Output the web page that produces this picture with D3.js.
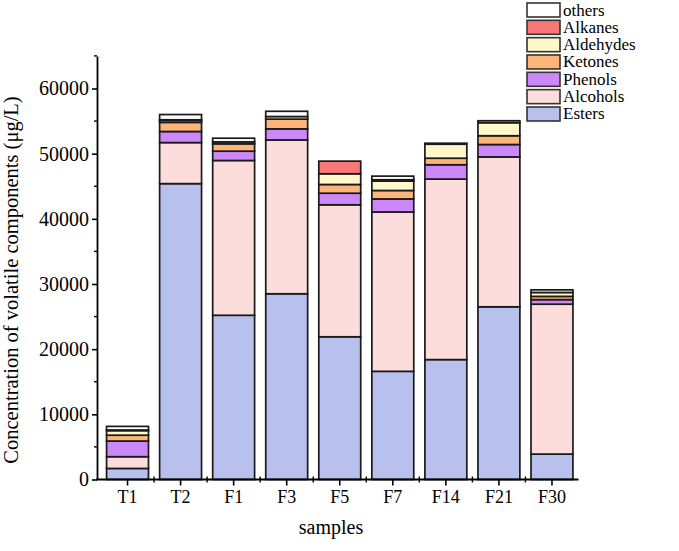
<!DOCTYPE html>
<html><head><meta charset="utf-8">
<script src="https://cdn.jsdelivr.net/npm/d3@7"></script>
<style>body{margin:0;background:#fff}svg{display:block}</style>
</head><body>
<svg id="c" width="679" height="551"></svg>
<script>
const categories = ["T1","T2","F1","F3","F5","F7","F14","F21","F30"];
const seriesNames = ["Esters","Alcohols","Phenols","Ketones","Aldehydes","Alkanes","others"];
const esters    = [1700, 45400, 25200, 28500, 21900, 16600, 18400, 26500, 3900];
const alcohols  = [1800, 6300, 23750, 23600, 20250, 24450, 27700, 23000, 23000];
const phenols   = [2400, 1700, 1430, 1700, 1780, 2000, 2200, 1900, 700];
const ketones   = [900, 1400, 1130, 1500, 1340, 1300, 1000, 1350, 500];
const aldehydes = [700, 300, 300, 400, 1640, 1450, 2150, 2000, 600];
const alkanes   = [100, 100, 0, 0, 1940, 200, 0, 0, 0];
const others    = [550, 800, 560, 800, 0, 550, 150, 300, 400];
const yTicks = [0, 10000, 20000, 30000, 40000, 50000, 60000];
const colors = ["#b8c0ee","#fddcdc","#cc88f8","#fdb57a","#fff8c8","#f87878","#ffffff"];

const seriesValues = [esters, alcohols, phenols, ketones, aldehydes, alkanes, others];
const rows = categories.map((c,i)=>{const r={cat:c};seriesNames.forEach((s,j)=>r[s]=seriesValues[j][i]);return r;});
const stacked = d3.stack().keys(seriesNames)(rows);

const svg = d3.select("#c");
const font = "'Liberation Serif', 'Times New Roman', serif";
const AX = 97, AXR = 578.5;
const x = d3.scaleBand().domain(categories).range([101, 578.5]).paddingInner(0.21).paddingOuter(0.105);
const y = d3.scaleLinear().domain([0, 65000]).range([479.5, 55.9]);

// bars
const g = svg.append("g");
stacked.forEach((layer, j)=>{
  g.selectAll(null).data(layer.filter(d=>d[1]-d[0]>0)).enter().append("rect")
    .attr("x", d=>x(d.data.cat))
    .attr("width", x.bandwidth())
    .attr("y", d=>y(d[1]))
    .attr("height", d=>y(d[0])-y(d[1]))
    .attr("fill", colors[j])
    .attr("stroke", "#1a1a1a")
    .attr("stroke-width", 1.7);
});

// y axis
const yAxis = d3.axisLeft(y).tickValues(yTicks).tickSize(5).tickSizeOuter(0).tickFormat(d3.format("d"));
const ya = svg.append("g").attr("transform",`translate(${AX},0)`).call(yAxis);
ya.select(".domain").attr("stroke","#000").attr("stroke-width",1.8);
ya.selectAll(".tick line").attr("stroke","#000").attr("stroke-width",1.6);
ya.selectAll(".tick text").attr("font-family",font).attr("font-size",20).attr("fill","#000").attr("x",-8);
// minor y ticks
const minor = d3.range(5000, 65001, 10000);
svg.append("g").selectAll("line").data(minor).enter().append("line")
  .attr("x1",AX).attr("x2",AX-3).attr("y1",d=>y(d)).attr("y2",d=>y(d))
  .attr("stroke","#000").attr("stroke-width",1.4);

// x axis
const xAxis = d3.axisBottom(x).tickSize(6).tickSizeOuter(0);
const xa = svg.append("g").attr("transform","translate(0,479.5)").call(xAxis);
xa.select(".domain").remove();
xa.append("line").attr("x1",AX-1).attr("x2",AXR).attr("stroke","#000").attr("stroke-width",1.8);
xa.selectAll(".tick line").attr("stroke","#000").attr("stroke-width",1.6);
xa.selectAll(".tick text").attr("font-family",font).attr("font-size",18).attr("fill","#000").attr("y",11);
// minor x ticks at band boundaries
const bounds = categories.slice(1).map(c=>x(c)-x.step()*x.paddingInner()/2);
xa.append("g").selectAll("line").data(bounds).enter().append("line")
  .attr("x1",d=>d).attr("x2",d=>d).attr("y1",-3).attr("y2",3)
  .attr("stroke","#000").attr("stroke-width",1.4);

// axis titles
svg.append("text").attr("x",331).attr("y",534).attr("text-anchor","middle")
  .attr("font-family",font).attr("font-size",20).text("samples");
svg.append("text").attr("transform","translate(18,280) rotate(-90)").attr("text-anchor","middle")
  .attr("font-family",font).attr("font-size",20.5).text("Concentration of volatile components (μg/L)");

// legend
const legendOrder = seriesNames.map((s,j)=>({s,c:colors[j]})).reverse();
const lg = svg.append("g");
legendOrder.forEach((d,i)=>{
  const yy = 3 + i*17.33;
  lg.append("rect").attr("x",527).attr("y",yy).attr("width",33).attr("height",14)
    .attr("fill",d.c).attr("stroke","#333").attr("stroke-width",1.6);
  lg.append("text").attr("x",563).attr("y",yy+12.5).attr("font-family",font).attr("font-size",17).text(d.s);
});
</script>
</body></html>
